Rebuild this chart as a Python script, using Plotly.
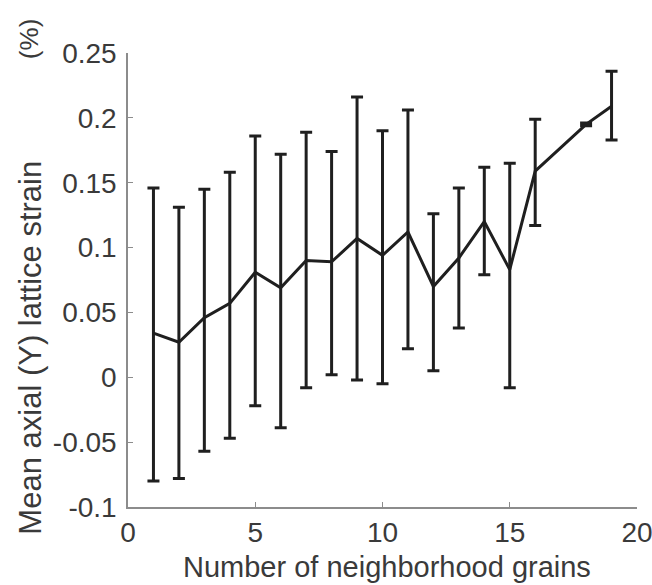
import plotly.graph_objects as go

# Data
x_vals = [1, 2, 3, 4, 5, 6, 7, 8, 9, 10, 11, 12, 13, 14, 15, 16, 18, 19]
mean_vals = [0.034, 0.027, 0.046, 0.057, 0.081, 0.069, 0.090, 0.089, 0.107, 0.094,
             0.112, 0.070, 0.092, 0.120, 0.083, 0.159, 0.195, 0.209]
upper_vals = [0.146, 0.131, 0.145, 0.158, 0.186, 0.172, 0.189, 0.174, 0.216, 0.190,
              0.206, 0.126, 0.146, 0.162, 0.165, 0.199, 0.196, 0.236]
lower_vals = [-0.080, -0.078, -0.057, -0.047, -0.022, -0.039, -0.008, 0.002, -0.002, -0.005,
              0.022, 0.005, 0.038, 0.079, -0.008, 0.117, 0.194, 0.183]

x_ticks = [0, 5, 10, 15, 20]
y_ticks = [-0.1, -0.05, 0, 0.05, 0.1, 0.15, 0.2, 0.25]
y_tick_labels = ["-0.1", "-0.05", "0", "0.05", "0.1", "0.15", "0.2", "0.25"]

err_plus = [u - m for u, m in zip(upper_vals, mean_vals)]
err_minus = [m - l for m, l in zip(mean_vals, lower_vals)]

FONT = "Liberation Sans, Arial, sans-serif"
TXT = "#3a3a3a"
AX = "#8c8c8c"

fig = go.Figure()
fig.add_trace(go.Scatter(
    x=x_vals, y=mean_vals, mode="lines",
    line=dict(color="#1f1f1f", width=3),
    error_y=dict(type="data", symmetric=False, array=err_plus, arrayminus=err_minus,
                 color="#1f1f1f", thickness=3, width=6),
    showlegend=False, hoverinfo="skip",
))

fig.update_layout(
    width=652, height=585,
    margin=dict(l=128, r=15, t=53, b=78, autoexpand=False),
    paper_bgcolor="white", plot_bgcolor="white",
    font=dict(family=FONT, size=28, color=TXT),
    xaxis=dict(range=[0, 20], tickvals=x_ticks, showgrid=False, zeroline=False,
               showline=True, linecolor=AX, linewidth=1.5,
               ticks="inside", ticklen=5, tickcolor=AX, automargin=False,
               tickfont=dict(size=28, color=TXT), ticklabeloverflow="allow"),
    yaxis=dict(range=[-0.1, 0.25], tickvals=y_ticks, ticktext=y_tick_labels,
               showgrid=False, zeroline=False, automargin=False,
               showline=True, linecolor=AX, linewidth=1.5,
               ticks="inside", ticklen=5, tickcolor=AX,
               tickfont=dict(size=28, color=TXT), ticklabelstandoff=4),
    annotations=[
        dict(text="Number of neighborhood grains", xref="paper", yref="paper",
             x=0.509, y=-0.132, showarrow=False,
             font=dict(size=29, color=TXT), xanchor="center", yanchor="middle"),
        dict(text="Mean axial (Y) lattice strain", xref="paper", yref="paper",
             x=-0.1906, y=0.351, textangle=-90, showarrow=False,
             font=dict(size=31, color=TXT), xanchor="center", yanchor="middle"),
        dict(text="(%)", xref="paper", yref="paper",
             x=-0.193, y=1.03, textangle=-90, showarrow=False,
             font=dict(size=26, color=TXT), xanchor="center", yanchor="middle"),
    ],
)

fig.write_html("out.html", config={"displayModeBar": False},
               post_script="document.body.style.margin='0';")
